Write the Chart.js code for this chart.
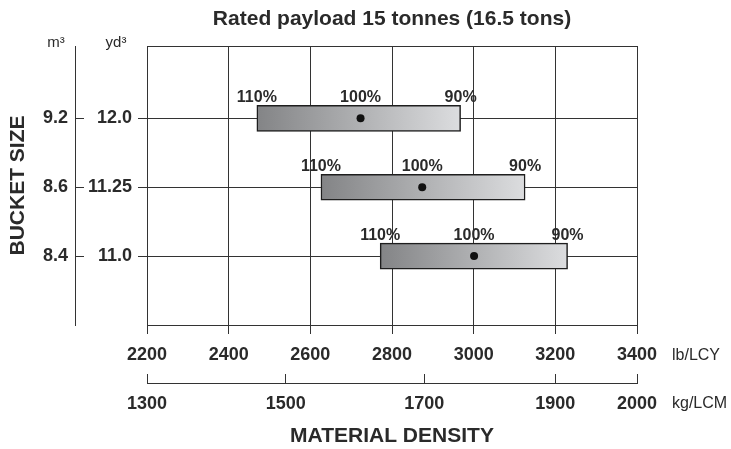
<!DOCTYPE html>
<html>
<head>
<meta charset="utf-8">
<script src="https://cdn.jsdelivr.net/npm/chart.js@4.4.1/dist/chart.umd.min.js"></script>
<style>
  html, body { margin: 0; padding: 0; background: #fff; }
  #wrap { width: 731px; height: 449px; position: relative; }
</style>
</head>
<body>
<div id="wrap"><canvas id="c"></canvas></div>
<script>
// ---- data ----
const titleText = 'Rated payload 15 tonnes (16.5 tons)';
const bucketYd3 = ['12.0', '11.25', '11.0'];
const bucketM3 = ['9.2', '8.6', '8.4'];
const rowPos = [3, 2, 1];
const fill110 = [2469, 2626, 2771];   // lb/LCY at 110% fill
const fill100 = [2723, 2874, 3001];   // lb/LCY at 100% fill
const fill90 = [2968, 3126, 3230];    // lb/LCY at 90% fill
const fillLabels = ['110%', '100%', '90%'];
const lbTicks = [2200, 2400, 2600, 2800, 3000, 3200, 3400];
const kgLabels = [1300, 1500, 1700, 1900, 2000];
const kgTickAtLb = [2200, 2540, 2879, 3200, 3400]; // where each kg tick sits on the lb scale
const xTitle = 'MATERIAL DENSITY';
const yTitle = 'BUCKET SIZE';

Chart.defaults.font.family = "'Liberation Sans', Arial, Helvetica, sans-serif";
Chart.defaults.color = '#222';

const INK = '#2a2a2a';
const GRID = '#333';

function gradientFor(ctx) {
  const chart = ctx.chart;
  const xs = chart.scales.x;
  if (!xs || ctx.dataIndex === undefined) return '#aaa';
  const i = ctx.dataIndex;
  const x0 = xs.getPixelForValue(fill110[i]);
  const x1 = xs.getPixelForValue(fill90[i]);
  if (!isFinite(x0) || !isFinite(x1)) return '#aaa';
  const g = chart.ctx.createLinearGradient(x0, 0, x1, 0);
  g.addColorStop(0, '#838486');
  g.addColorStop(1, '#dcdddf');
  return g;
}

const annot = {
  id: 'annot',
  beforeDatasetsDraw(chart) {
    const { ctx, chartArea: ca } = chart;
    ctx.save();
    ctx.strokeStyle = GRID;
    ctx.lineWidth = 1;
    ctx.beginPath();
    ctx.moveTo(ca.left, Math.round(ca.top) + 0.5);
    ctx.lineTo(ca.right + 0.5, Math.round(ca.top) + 0.5);
    ctx.stroke();
    ctx.restore();
  },
  afterDatasetsDraw(chart) {
    const { ctx, chartArea: ca, scales } = chart;
    const meta = chart.getDatasetMeta(0);
    ctx.save();
    ctx.fillStyle = INK;
    ctx.font = "bold 16px 'Liberation Sans', Arial, sans-serif";
    ctx.textAlign = 'center';
    ctx.textBaseline = 'alphabetic';
    meta.data.forEach((el, i) => {
      const p = el.getProps(['x', 'base', 'y', 'height'], true);
      const left = Math.min(p.x, p.base);
      const right = Math.max(p.x, p.base);
      const yTop = p.y - p.height / 2 - 3;
      const mid = scales.x.getPixelForValue(fill100[i]);
      ctx.fillText(fillLabels[0], left, yTop);
      ctx.fillText(fillLabels[1], mid, yTop);
      ctx.fillText(fillLabels[2], right, yTop);
    });
    // unit labels on the right of the two density axes
    ctx.font = "16px 'Liberation Sans', Arial, sans-serif";
    ctx.textAlign = 'left';
    ctx.textBaseline = 'middle';
    ctx.fillText('lb/LCY', ca.right + 35, scales.x.top + 31);
    ctx.fillText('kg/LCM', ca.right + 35, scales.x2.top + 21);
    // unit headers above the bucket axes
    ctx.font = "15px 'Liberation Sans', Arial, sans-serif";
    ctx.textAlign = 'center';
    ctx.textBaseline = 'alphabetic';
    ctx.fillText('m\u00B3', scales.y2.right - 19, ca.top + 1);
    ctx.fillText('yd\u00B3', scales.y.left + 41, ca.top + 1);
    ctx.restore();
  }
};

const ySetTicks = (s) => { s.ticks = rowPos.map(v => ({ value: v })); };

new Chart(document.getElementById('c'), {
  type: 'bar',
  data: {
    datasets: [
      {
        type: 'bar',
        indexAxis: 'y',
        xAxisID: 'x',
        yAxisID: 'y',
        data: rowPos.map((r, i) => ({ x: [fill110[i], fill90[i]], y: r })),
        backgroundColor: gradientFor,
        borderColor: '#1e1e1e',
        borderWidth: 1.5,
        borderSkipped: false,
        barThickness: 26,
        order: 2
      },
      {
        type: 'scatter',
        xAxisID: 'x',
        yAxisID: 'y',
        data: rowPos.map((r, i) => ({ x: fill100[i], y: r })),
        pointRadius: 4,
        pointHoverRadius: 4,
        backgroundColor: '#111',
        borderColor: '#111',
        borderWidth: 0,
        showLine: false,
        order: 1
      }
    ]
  },
  options: {
    responsive: true,
    maintainAspectRatio: false,
    animation: false,
    events: [],
    layout: { padding: { left: 0, right: 94, top: 0, bottom: 0 } },
    plugins: {
      legend: { display: false },
      tooltip: { enabled: false },
      title: {
        display: true,
        text: titleText,
        fullSize: false,
        color: INK,
        font: { size: 21, weight: 'bold' },
        padding: { top: 7, bottom: 13.8 }
      }
    },
    scales: {
      x: {
        type: 'linear',
        position: 'bottom',
        weight: 0,
        min: 2200,
        max: 3400,
        offset: false,
        afterBuildTicks: (s) => { s.ticks = lbTicks.map(v => ({ value: v })); },
        afterFit: (s) => { s.height = 58; },
        grid: { color: GRID, lineWidth: 1, tickLength: 9, offset: false, drawOnChartArea: true },
        border: { display: true, color: GRID, width: 1 },
        ticks: {
          color: INK, padding: 10, maxRotation: 0, autoSkip: false,
          font: { size: 18, weight: 'bold' },
          callback: (v) => String(v)
        }
      },
      x2: {
        type: 'linear',
        position: 'bottom',
        weight: 1,
        min: 2200,
        max: 3400,
        offset: false,
        afterBuildTicks: (s) => { s.ticks = kgTickAtLb.map(v => ({ value: v })); },
        afterFit: (s) => { s.height = 66; },
        grid: { color: GRID, lineWidth: 1, tickLength: -9, offset: false, drawOnChartArea: false },
        border: { display: true, color: GRID, width: 1 },
        ticks: {
          color: INK, padding: 19, maxRotation: 0, autoSkip: false,
          font: { size: 18, weight: 'bold' },
          callback: (v) => { const k = kgTickAtLb.indexOf(v); return k >= 0 ? String(kgLabels[k]) : ''; }
        },
        title: {
          display: true, text: xTitle, color: INK,
          font: { size: 21, weight: 'bold' },
          padding: { top: 0, bottom: 0 }
        }
      },
      y: {
        type: 'linear',
        position: 'left',
        weight: 0,
        min: 0,
        max: 4.05,
        offset: false,
        afterBuildTicks: ySetTicks,
        afterFit: (s) => { s.width = 72; },
        grid: { color: GRID, lineWidth: 1, tickLength: 9, offset: false, drawOnChartArea: true },
        border: { display: true, color: GRID, width: 1 },
        ticks: {
          color: INK, padding: 6, autoSkip: false,
          font: { size: 18, weight: 'bold' },
          callback: (v) => { const k = rowPos.indexOf(v); return k >= 0 ? bucketYd3[k] : ''; }
        }
      },
      y2: {
        type: 'linear',
        position: 'left',
        weight: 1,
        min: 0,
        max: 4.05,
        offset: false,
        afterBuildTicks: ySetTicks,
        afterFit: (s) => { s.width = 75; },
        grid: { color: GRID, lineWidth: 1, tickLength: -9, offset: false, drawOnChartArea: false },
        border: { display: true, color: GRID, width: 1 },
        ticks: {
          color: INK, padding: 16, autoSkip: false,
          font: { size: 18, weight: 'bold' },
          callback: (v) => { const k = rowPos.indexOf(v); return k >= 0 ? bucketM3[k] : ''; }
        },
        title: {
          display: true, text: yTitle, color: INK,
          font: { size: 21, weight: 'bold' },
          padding: { top: 6, bottom: 0 }
        }
      }
    }
  },
  plugins: [annot]
});
</script>
</body>
</html>
